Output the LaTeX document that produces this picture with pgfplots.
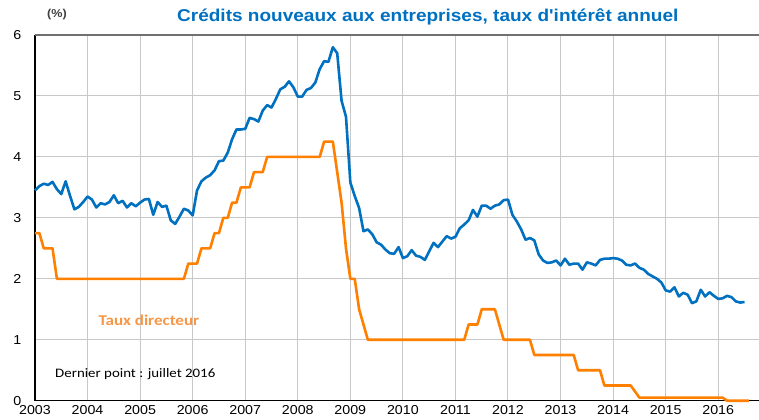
\documentclass[border=0pt]{standalone}
\usepackage{pgfplots}
\usepackage{pgfplotstable}
\pgfplotsset{compat=1.18}
\usepackage{fontspec}
\setmainfont{Liberation Sans}
\newfontfamily\carlito{Carlito}
\definecolor{cblue}{HTML}{0070C0}
\definecolor{corange}{HTML}{FF7F00}
\definecolor{clabel}{HTML}{F79646}
\definecolor{gridgray}{HTML}{C8C8C8}
\definecolor{topgray}{HTML}{707070}

\pgfplotstableread{
t b o
2003.000 3.45 2.75
2003.083 3.52 2.75
2003.167 3.56 2.50
2003.250 3.54 2.50
2003.333 3.59 2.50
2003.417 3.47 2.00
2003.500 3.39 2.00
2003.583 3.60 2.00
2003.667 3.36 2.00
2003.750 3.14 2.00
2003.833 3.18 2.00
2003.917 3.26 2.00
2004.000 3.35 2.00
2004.083 3.30 2.00
2004.167 3.17 2.00
2004.250 3.24 2.00
2004.333 3.22 2.00
2004.417 3.26 2.00
2004.500 3.37 2.00
2004.583 3.24 2.00
2004.667 3.28 2.00
2004.750 3.17 2.00
2004.833 3.24 2.00
2004.917 3.19 2.00
2005.000 3.25 2.00
2005.083 3.30 2.00
2005.167 3.31 2.00
2005.250 3.05 2.00
2005.333 3.26 2.00
2005.417 3.18 2.00
2005.500 3.20 2.00
2005.583 2.96 2.00
2005.667 2.90 2.00
2005.750 3.02 2.00
2005.833 3.15 2.00
2005.917 3.12 2.25
2006.000 3.04 2.25
2006.083 3.45 2.25
2006.167 3.60 2.50
2006.250 3.66 2.50
2006.333 3.70 2.50
2006.417 3.78 2.75
2006.500 3.93 2.75
2006.583 3.94 3.00
2006.667 4.07 3.00
2006.750 4.29 3.25
2006.833 4.45 3.25
2006.917 4.45 3.50
2007.000 4.46 3.50
2007.083 4.64 3.50
2007.167 4.62 3.75
2007.250 4.58 3.75
2007.333 4.76 3.75
2007.417 4.85 4.00
2007.500 4.81 4.00
2007.583 4.95 4.00
2007.667 5.11 4.00
2007.750 5.15 4.00
2007.833 5.24 4.00
2007.917 5.14 4.00
2008.000 4.99 4.00
2008.083 4.99 4.00
2008.167 5.10 4.00
2008.250 5.13 4.00
2008.333 5.22 4.00
2008.417 5.44 4.00
2008.500 5.57 4.25
2008.583 5.56 4.25
2008.667 5.80 4.25
2008.750 5.70 3.75
2008.833 4.92 3.25
2008.917 4.66 2.50
2009.000 3.58 2.00
2009.083 3.36 2.00
2009.167 3.16 1.50
2009.250 2.78 1.25
2009.333 2.81 1.00
2009.417 2.73 1.00
2009.500 2.60 1.00
2009.583 2.56 1.00
2009.667 2.48 1.00
2009.750 2.42 1.00
2009.833 2.41 1.00
2009.917 2.52 1.00
2010.000 2.34 1.00
2010.083 2.37 1.00
2010.167 2.47 1.00
2010.250 2.38 1.00
2010.333 2.36 1.00
2010.417 2.31 1.00
2010.500 2.45 1.00
2010.583 2.59 1.00
2010.667 2.52 1.00
2010.750 2.61 1.00
2010.833 2.70 1.00
2010.917 2.66 1.00
2011.000 2.69 1.00
2011.083 2.83 1.00
2011.167 2.89 1.00
2011.250 2.96 1.25
2011.333 3.13 1.25
2011.417 3.02 1.25
2011.500 3.20 1.50
2011.583 3.20 1.50
2011.667 3.15 1.50
2011.750 3.20 1.50
2011.833 3.22 1.25
2011.917 3.29 1.00
2012.000 3.30 1.00
2012.083 3.05 1.00
2012.167 2.94 1.00
2012.250 2.81 1.00
2012.333 2.64 1.00
2012.417 2.67 1.00
2012.500 2.63 0.75
2012.583 2.40 0.75
2012.667 2.30 0.75
2012.750 2.26 0.75
2012.833 2.27 0.75
2012.917 2.30 0.75
2013.000 2.22 0.75
2013.083 2.33 0.75
2013.167 2.23 0.75
2013.250 2.25 0.75
2013.333 2.25 0.50
2013.417 2.15 0.50
2013.500 2.27 0.50
2013.583 2.25 0.50
2013.667 2.22 0.50
2013.750 2.31 0.50
2013.833 2.33 0.25
2013.917 2.33 0.25
2014.000 2.34 0.25
2014.083 2.33 0.25
2014.167 2.30 0.25
2014.250 2.23 0.25
2014.333 2.22 0.25
2014.417 2.25 0.15
2014.500 2.18 0.05
2014.583 2.15 0.05
2014.667 2.08 0.05
2014.750 2.04 0.05
2014.833 2.00 0.05
2014.917 1.94 0.05
2015.000 1.81 0.05
2015.083 1.79 0.05
2015.167 1.86 0.05
2015.250 1.71 0.05
2015.333 1.77 0.05
2015.417 1.74 0.05
2015.500 1.60 0.05
2015.583 1.63 0.05
2015.667 1.82 0.05
2015.750 1.71 0.05
2015.833 1.78 0.05
2015.917 1.72 0.05
2016.000 1.67 0.05
2016.083 1.68 0.05
2016.167 1.72 0.00
2016.250 1.70 0.00
2016.333 1.63 0.00
2016.417 1.61 0.00
2016.500 1.62 0.00
2016.583 nan 0.00
}\data

\begin{document}
\begin{tikzpicture}
\begin{axis}[
  scale only axis, width=724bp, height=365.7bp,
  at={(0,0)}, anchor=south west,
  xmin=2003, xmax=2016.775, ymin=0, ymax=6,
  xtick={2003,...,2016}, ytick={0,...,6},
  grid=major, major grid style={line width=1bp, color=gridgray},
  axis x line=bottom, axis y line=left,
  axis line style={-, line width=1.5bp, black},
  major tick length=0pt,
  tick label style={font=\fontsize{13}{13}\selectfont, xscale=1.1, /pgf/number format/assume math mode=true},
  /pgf/number format/1000 sep={},
  xticklabel style={yshift=-1bp},
  yticklabel style={xshift=-9bp},
  clip=false,
]
\addplot[cblue, line width=2.6bp, line join=round, no markers] table[x=t, y=b] {\data};
\addplot[corange, line width=2.6bp, line join=round, no markers] table[x=t, y=o] {\data};
\draw[topgray, line width=1.6bp] (rel axis cs:0,1) -- (rel axis cs:1,1);
\end{axis}
\node[font=\bfseries\fontsize{17.2}{18}\selectfont, text=cblue, inner sep=0pt, xscale=1.11] at (392.8bp,383.7bp) {Crédits nouveaux aux entreprises, taux d\textquotesingle intérêt annuel};
\node[font=\bfseries\fontsize{11.5}{12}\selectfont, text=black!75, inner sep=0pt, xscale=1.1] at (22bp,385.7bp) {(\%)};
\node[font=\carlito\bfseries\fontsize{15}{16}\selectfont, text=clabel, inner sep=0pt, anchor=west, xscale=1.14] at (63.3bp,80.7bp) {Taux directeur};
\node[font=\carlito\fontsize{13}{14}\selectfont, text=black, inner sep=0pt, anchor=west, xscale=1.15] at (20bp,26.7bp) {Dernier point : juillet 2016};
\pgfresetboundingbox
\path[use as bounding box] (-35bp,-19.3bp) rectangle (724bp,400.7bp);
\end{tikzpicture}
\end{document}
